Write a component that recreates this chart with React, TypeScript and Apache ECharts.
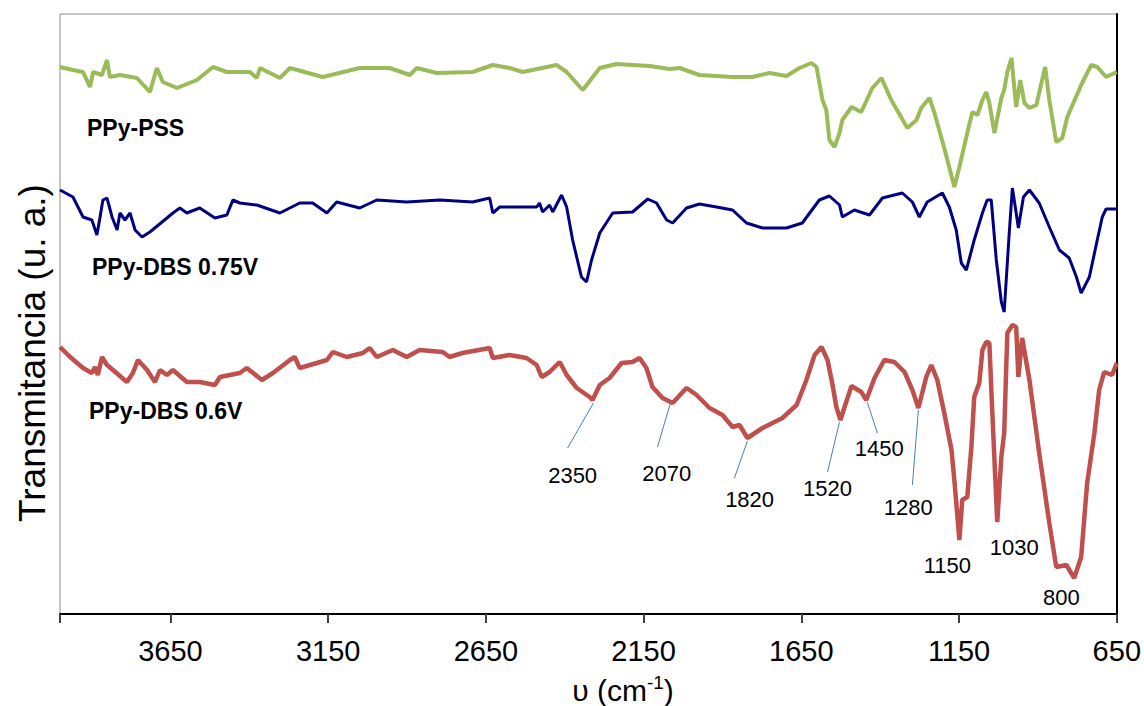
import React, { useEffect, useRef } from "react";
import * as echarts from "echarts";

// Wavenumber (cm-1) vs transmittance (arbitrary units, stacked offsets)
const ppyPss: [number, number][] = [
  [4000, 547], [3959, 544], [3927, 542], [3905, 527], [3895, 542], [3867, 539], [3851, 554], [3842, 537],
  [3810, 539], [3756, 536], [3715, 522], [3693, 546], [3674, 532], [3629, 526], [3566, 534], [3515, 547],
  [3471, 542], [3398, 542], [3376, 536], [3366, 546], [3303, 536], [3271, 546], [3167, 537], [3050, 546],
  [2955, 546], [2891, 539], [2869, 546], [2806, 541], [2692, 542], [2628, 549], [2575, 546], [2533, 542],
  [2426, 549], [2394, 542], [2343, 524], [2289, 546], [2236, 550], [2131, 548], [2068, 545], [2036, 546],
  [1973, 539], [1868, 537], [1805, 537], [1751, 541], [1697, 538], [1656, 546], [1618, 551], [1602, 547],
  [1583, 514], [1571, 504], [1561, 474], [1545, 467], [1529, 481], [1520, 494], [1491, 507], [1460, 502],
  [1425, 526], [1396, 536], [1365, 514], [1314, 486], [1285, 494], [1270, 506], [1244, 516], [1228, 501],
  [1197, 466], [1165, 427], [1149, 447], [1127, 477], [1108, 502], [1092, 499], [1076, 514], [1064, 522],
  [1054, 511], [1038, 481], [1016, 516], [1007, 524], [997, 542], [984, 556], [969, 507], [956, 534],
  [943, 511], [927, 506], [905, 509], [889, 531], [877, 547], [864, 514], [842, 472], [823, 476],
  [807, 497], [760, 531], [731, 549], [712, 547], [684, 537], [650, 542],
];

const ppyDbs075: [number, number][] = [
  [4000, 424], [3959, 417], [3927, 397], [3899, 394], [3883, 379], [3873, 397], [3864, 414], [3851, 416],
  [3835, 397], [3819, 384], [3810, 401], [3794, 394], [3778, 401], [3762, 384], [3740, 377], [3715, 382],
  [3661, 396], [3642, 401], [3620, 406], [3598, 401], [3557, 406], [3509, 396], [3471, 399], [3452, 414],
  [3430, 411], [3376, 409], [3303, 401], [3240, 411], [3199, 411], [3154, 401], [3123, 412], [3050, 406],
  [2996, 414], [2901, 412], [2796, 414], [2692, 412], [2638, 416], [2628, 401], [2606, 407], [2489, 407],
  [2480, 411], [2470, 402], [2448, 409], [2438, 402], [2410, 419], [2394, 407], [2375, 374], [2347, 337],
  [2331, 332], [2315, 354], [2289, 381], [2248, 401], [2185, 402], [2137, 415], [2109, 411], [2077, 394],
  [2058, 391], [2014, 406], [1973, 410], [1919, 407], [1868, 404], [1824, 391], [1773, 386], [1697, 386],
  [1647, 391], [1593, 414], [1561, 418], [1529, 409], [1520, 397], [1482, 404], [1434, 399], [1393, 416],
  [1330, 421], [1298, 412], [1276, 397], [1251, 412], [1203, 421], [1181, 407], [1159, 384], [1143, 351],
  [1127, 344], [1102, 374], [1076, 401], [1061, 414], [1048, 414], [1032, 354], [1016, 312], [1007, 302],
  [991, 381], [981, 426], [969, 401], [962, 386], [946, 417], [927, 424], [896, 411], [864, 387],
  [832, 364], [801, 356], [778, 337], [763, 321], [737, 337], [712, 374], [696, 397], [684, 405], [650, 405],
];

const ppyDbs06: [number, number][] = [
  [4000, 267], [3968, 257], [3927, 246], [3899, 241], [3889, 247], [3880, 239], [3867, 257], [3851, 249],
  [3832, 244], [3788, 232], [3769, 241], [3753, 254], [3724, 244], [3699, 232], [3683, 244], [3661, 239],
  [3642, 244], [3598, 232], [3557, 232], [3509, 229], [3493, 237], [3430, 241], [3408, 246], [3360, 234],
  [3325, 241], [3271, 254], [3256, 257], [3240, 246], [3186, 251], [3154, 254], [3135, 262], [3091, 257],
  [3040, 261], [3018, 266], [2996, 257], [2945, 264], [2901, 257], [2860, 264], [2787, 262], [2765, 257],
  [2724, 261], [2638, 266], [2628, 256], [2575, 259], [2521, 256], [2489, 249], [2473, 237], [2448, 242],
  [2416, 252], [2394, 239], [2362, 226], [2321, 217], [2312, 214], [2289, 229], [2258, 236], [2220, 251],
  [2185, 252], [2163, 256], [2141, 246], [2122, 227], [2090, 216], [2058, 211], [2014, 226], [1982, 219],
  [1941, 206], [1900, 199], [1868, 187], [1846, 189], [1821, 176], [1773, 186], [1710, 196], [1665, 209],
  [1634, 234], [1608, 259], [1586, 267], [1567, 254], [1551, 229], [1539, 207], [1526, 194], [1513, 207],
  [1491, 228], [1460, 222], [1444, 214], [1418, 236], [1387, 254], [1355, 252], [1323, 242], [1298, 224],
  [1279, 206], [1254, 237], [1238, 249], [1219, 234], [1197, 201], [1174, 164], [1165, 134], [1149, 74],
  [1140, 114], [1124, 117], [1111, 167], [1102, 217], [1086, 231], [1076, 264], [1064, 272], [1054, 271],
  [1045, 204], [1029, 92], [1016, 157], [1007, 181], [997, 281], [981, 289], [969, 287], [962, 237],
  [950, 276], [927, 234], [896, 161], [864, 91], [842, 47], [810, 49], [785, 36], [763, 57],
  [744, 131], [721, 181], [706, 224], [690, 242], [665, 239], [650, 251],
];

const xTickValues = [650, 1150, 1650, 2150, 2650, 3150, 3650];

// Peak annotations: label, leader line start (on curve), leader line end, label position
const peakLabels = ["2350", "2070", "1820", "1520", "1450", "1280", "1150", "1030", "800"];
const peakLineStart: ([number, number] | null)[] = [
  [2309, 211], [2065, 211], [1821, 173], [1529, 192], [1441, 212], [1279, 204], null, null, null,
];
const peakLineEnd: ([number, number] | null)[] = [
  [2391, 166], [2106, 167], [1862, 136], [1567, 142], [1409, 181], [1298, 129], null, null, null,
];
const peakLabelPos: [number, number][] = [
  [2375, 139], [2077, 141], [1814, 115], [1567, 126], [1403, 166], [1311, 107], [1187, 49], [975, 67], [826, 17],
];

const seriesNames = ["PPy-PSS", "PPy-DBS 0.75V", "PPy-DBS 0.6V"];
const seriesColors = ["#9bbb59", "#000080", "#c0504d"];

export default function App() {
  const ref = useRef<HTMLDivElement>(null);

  useEffect(() => {
    if (!ref.current) return;
    const chart = echarts.init(ref.current, null, { renderer: "svg" });
    const font = "Liberation Sans, Arial, sans-serif";

    const markLines = peakLabels
      .map((_, i) => (peakLineStart[i] && peakLineEnd[i] ? [{ coord: peakLineStart[i] }, { coord: peakLineEnd[i] }] : null))
      .filter((d) => d !== null);

    chart.setOption({
      animation: false,
      grid: {
        left: 60,
        right: 27,
        top: 14,
        bottom: 92,
        show: true,
        borderColor: "#8c8c8c",
        borderWidth: 1,
        backgroundColor: "transparent",
      },
      xAxis: {
        type: "value",
        min: 650,
        max: 4000,
        interval: 500,
        inverse: true,
        axisLine: { show: true, onZero: false, lineStyle: { color: "#000", width: 2 } },
        axisTick: {
          show: true,
          inside: false,
          length: 9,
          lineStyle: { color: "#404040", width: 2 },
        },
        axisLabel: {
          customValues: xTickValues,
          formatter: (v: number) => String(v),
          fontSize: 29,
          fontFamily: font,
          color: "#000",
          margin: 22,
        },
        splitLine: { show: false },
      },
      yAxis: {
        type: "value",
        min: 0,
        max: 600,
        position: "right",
        axisLine: { show: true, onZero: false, lineStyle: { color: "#000", width: 2 } },
        axisTick: { show: false },
        axisLabel: { show: false },
        splitLine: { show: false },
      },
      series: [
        {
          name: seriesNames[0],
          type: "line",
          data: ppyPss,
          showSymbol: false,
          symbol: "none",
          lineStyle: { color: seriesColors[0], width: 4 },
          z: 3,
        },
        {
          name: seriesNames[1],
          type: "line",
          data: ppyDbs075,
          showSymbol: false,
          symbol: "none",
          lineStyle: { color: seriesColors[1], width: 3 },
          z: 3,
        },
        {
          name: seriesNames[2],
          type: "line",
          data: ppyDbs06,
          showSymbol: false,
          symbol: "none",
          lineStyle: { color: seriesColors[2], width: 4.5 },
          z: 3,
          markLine: {
            silent: true,
            symbol: "none",
            label: { show: false },
            lineStyle: { color: "#4a7ebb", width: 1, type: "solid" },
            data: markLines,
          },
        },
        {
          name: "peaks",
          type: "scatter",
          symbol: "circle",
          symbolSize: 1,
          itemStyle: { color: "transparent", opacity: 1 },
          data: peakLabels.map((l, i) => ({ name: l, value: peakLabelPos[i] })),
          label: {
            show: true,
            position: "inside",
            formatter: (p: any) => p.name,
            fontSize: 22,
            fontFamily: font,
            color: "#000",
            opacity: 1,
            textBorderWidth: 0,
            textBorderColor: "transparent",
          },
          z: 4,
        },
      ],
      graphic: [
        {
          type: "text",
          x: 32,
          y: 353,
          rotation: Math.PI / 2,
          style: {
            text: "Transmitancia (u. a.)",
            font: `37px ${font}`,
            fill: "#000",
            align: "center",
            verticalAlign: "middle",
          },
        },
        {
          type: "text",
          x: 623,
          y: 690,
          style: {
            text: "{n|υ (cm}{s|-1}{n|)}",
            align: "center",
            verticalAlign: "middle",
            rich: {
              n: { fontSize: 30, fontFamily: font, fill: "#000", lineHeight: 34 },
              s: { fontSize: 19, fontFamily: font, fill: "#000", lineHeight: 34, verticalAlign: "top", padding: [0, 0, 10, 0] },
            },
          },
        },
        {
          type: "text",
          x: 87,
          y: 128,
          style: { text: seriesNames[0], font: `bold 23px ${font}`, fill: "#000", verticalAlign: "middle" },
        },
        {
          type: "text",
          x: 92,
          y: 267,
          style: { text: seriesNames[1], font: `bold 23px ${font}`, fill: "#000", verticalAlign: "middle" },
        },
        {
          type: "text",
          x: 89,
          y: 411,
          style: { text: seriesNames[2], font: `bold 23px ${font}`, fill: "#000", verticalAlign: "middle" },
        },
      ],
    });

    return () => chart.dispose();
  }, []);

  return <div ref={ref} style={{ position: "absolute", left: 0, top: 0, width: 1144, height: 706 }} />;
}
